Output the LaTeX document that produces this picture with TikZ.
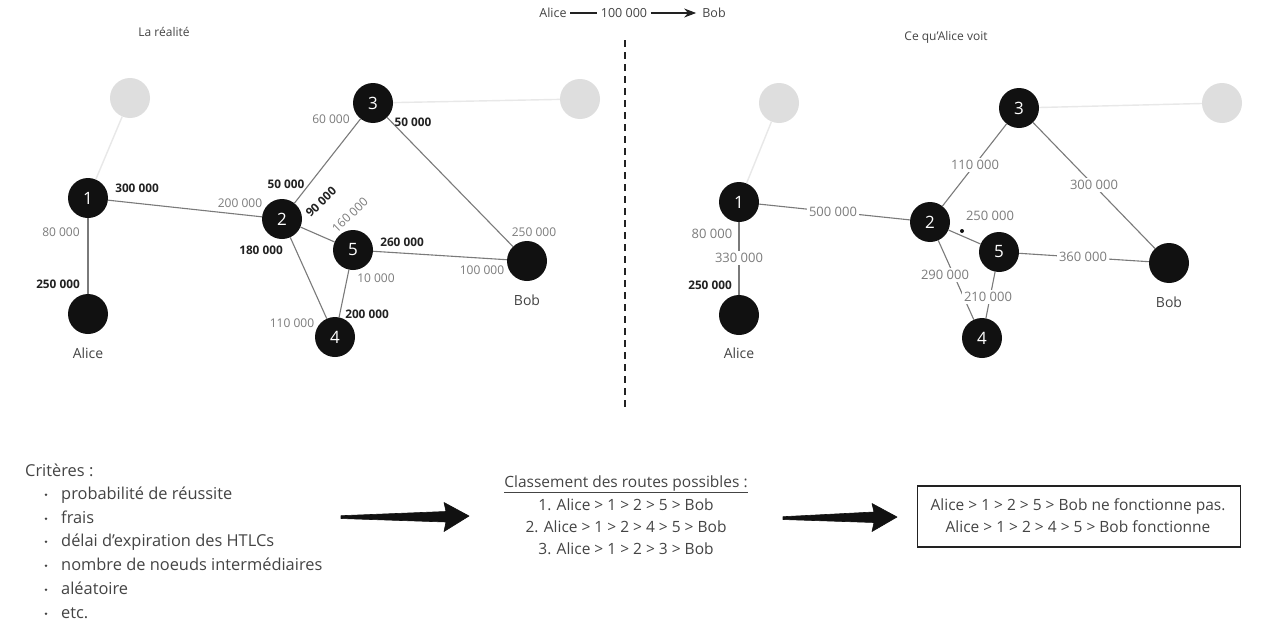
\documentclass[tikz,border=0pt]{standalone}
\usepackage{fontspec}
\setmainfont{Open Sans}
\usetikzlibrary{arrows.meta,shapes.geometric,calc}
\definecolor{edgec}{HTML}{7A7A7A}
\definecolor{lightc}{HTML}{E8E8E8}
\definecolor{ghost}{HTML}{DEDEDE}
\definecolor{nodec}{HTML}{111111}
\definecolor{txtc}{HTML}{444444}
\definecolor{grayl}{HTML}{7C7C7C}
\definecolor{boldl}{HTML}{222222}
\begin{document}
\begin{tikzpicture}[x=1pt,y=-1pt,
  pnode/.style={circle, fill=nodec, minimum size=40pt, inner sep=0pt, text=white, font=\fontsize{17}{17}\selectfont},
  gnode/.style={pnode, fill=ghost},
  edge/.style={draw=edgec, line width=1.1pt},
  ledge/.style={draw=lightc, line width=1.4pt},
  glab/.style={text=grayl, font=\fontsize{12}{12}\selectfont, inner sep=1pt},
  blab/.style={text=boldl, font=\bfseries\fontsize{11.8}{11.8}\selectfont, inner sep=1pt},
  wlab/.style={text=grayl, font=\fontsize{13}{13}\selectfont, fill=white, inner sep=2pt},
  plabel/.style={text=txtc, font=\fontsize{14}{14}\selectfont},
  leglab/.style={text=txtc, font=\fontsize{12.5}{12.5}\selectfont, inner sep=3.5pt},
  ttl/.style={text=txtc, font=\fontsize{12}{12}\selectfont},
  listtxt/.style={text=txtc, font=\fontsize{16.4}{16.4}\selectfont, anchor=west, inner sep=0pt, text height=12pt, text depth=3.6pt},
  ctxt/.style={text=txtc, font=\fontsize{15.5}{15.5}\selectfont, inner sep=0pt, text height=11.4pt, text depth=3.4pt},
  bigarrow/.style={fill=nodec, draw=nodec, line width=0.6pt, line join=round}
]
\useasboundingbox[fill=white] (0,0) rectangle (1272,637);

% ---------- legend ----------
\node[leglab] (legA) at (553,13) {Alice};
\node[leglab] (legV) at (624,13) {100 000};
\node[leglab, inner sep=6pt] (legB) at (714,13) {Bob};
\draw[line width=1.1pt, draw=boldl] (legA) -- (legV);
\draw[line width=1.1pt, draw=boldl, -{Stealth[length=12pt,width=9pt]}] (legV) -- (legB);

% ---------- dashed separator ----------
\coordinate (sepT) at (625,40);
\coordinate (sepB) at (625,410);
\draw[draw=boldl, line width=1.6pt, dash pattern=on 7pt off 5pt] (sepT) -- (sepB);

% ---------- titles ----------
\node[ttl] (t1) at (164,32) {La réalité};
\node[ttl] (t2) at (946,37) {Ce qu'Alice voit};

% ---------- left graph ----------
\node[gnode] (Lg1) at (130,98) {};
\node[gnode] (Lg2) at (580,99) {};
\node[pnode] (L1) at (88,198) {1};
\node[pnode] (LA) at (88,314) {};
\node[pnode] (L2) at (282,219) {2};
\node[pnode] (L3) at (373,103) {3};
\node[pnode] (L5) at (353,250) {5};
\node[pnode] (L4) at (335,337) {4};
\node[pnode] (LB) at (527,261) {};
\node[plabel] (LAt) at (88,353) {Alice};
\node[plabel] (LBt) at (527,300) {Bob};

\draw[ledge] (Lg1) -- (L1);
\draw[ledge] (L3) -- (Lg2);
\draw[edge] (L1) -- (LA);
\draw[edge] (L1) -- (L2);
\draw[edge] (L2) -- (L3);
\draw[edge] (L3) -- (LB);
\draw[edge] (L2) -- (L5);
\draw[edge] (L2) -- (L4);
\draw[edge] (L5) -- (L4);
\draw[edge] (L5) -- (LB);

\node[blab] (la1) at (137,188) {300 000};
\node[glab] (la2) at (61,232) {80 000};
\node[blab] (la3) at (58,284) {250 000};
\node[glab] (la4) at (240,203) {200 000};
\node[blab] (la5) at (286,184) {50 000};
\node[glab] (la6) at (331,119) {60 000};
\node[blab] (la7) at (413,122) {50 000};
\node[blab, rotate=44, inner sep=0pt] (la8) at (321,202) {90 000};
\node[glab, rotate=44, inner sep=0pt] (la9) at (350,215) {160 000};
\node[blab] (la10) at (402,242) {260 000};
\node[blab] (la11) at (261,250) {180 000};
\node[glab] (la12) at (376,278) {10 000};
\node[glab] (la13) at (534,232) {250 000};
\node[glab] (la14) at (482,270) {100 000};
\node[glab] (la15) at (292,323) {110 000};
\node[blab] (la16) at (367,314) {200 000};

% ---------- right graph ----------
\node[gnode] (Rg1) at (779,103) {};
\node[gnode] (Rg2) at (1222,103) {};
\node[pnode] (R1) at (739,202) {1};
\node[pnode] (RA) at (739,315) {};
\node[pnode] (R2) at (930,222) {2};
\node[pnode] (R3) at (1019,108) {3};
\node[pnode] (R5) at (999,252) {5};
\node[pnode] (R4) at (982,338) {4};
\node[pnode] (RB) at (1169,263) {};
\node[plabel] (RAt) at (739,353) {Alice};
\node[plabel] (RBt) at (1169,302) {Bob};

\draw[ledge] (Rg1) -- (R1);
\draw[ledge] (R3) -- (Rg2);
\draw[edge] (R1) -- (RA);
\draw[edge] (R1) -- (R2);
\draw[edge] (R2) -- (R3);
\draw[edge] (R3) -- (RB);
\draw[edge] (R2) -- (R5);
\draw[edge] (R2) -- (R4);
\draw[edge] (R5) -- (R4);
\draw[edge] (R5) -- (RB);
\coordinate (Rdot) at (962,231);
\fill[nodec] (Rdot) circle (2pt);

\node[glab, font=\fontsize{13}{13}\selectfont] (ra1) at (712,234) {80 000};
\node[wlab] (ra2) at (739,258) {330 000};
\node[blab] (ra3) at (710,285) {250 000};
\node[wlab] (ra4) at (833,212) {500 000};
\node[wlab] (ra5) at (975,165) {110 000};
\node[wlab] (ra6) at (1094,185) {300 000};
\node[wlab] (ra7) at (990,216) {250 000};
\node[wlab] (ra8) at (1083,257) {360 000};
\node[wlab] (ra9) at (945,275) {290 000};
\node[wlab] (ra10) at (988,297) {210 000};

% ---------- criteria ----------
\node[listtxt] (crit) at (25,472) {Critères :};
\foreach \yy/\tt [count=\i] in {495/probabilité de réussite, 519/frais, 542/délai d'expiration des HTLCs, 566/nombre de noeuds intermédiaires, 590/aléatoire, 614/etc.}{
  \node[listtxt] (crit\i) at (61,\yy) {\tt};
  \fill[txtc] (46,\yy-0.3) circle (1.4pt);
}

% ---------- arrows ----------
\coordinate (a1t) at (341,517);
\coordinate (a1h) at (469,516);
\filldraw[bigarrow] ($(a1t)+(0,-1.3)$) -- (446,511.5) -- (444,502.5) -- (a1h) -- (444,531.5) -- (446,522) -- ($(a1t)+(0,1.5)$) -- cycle;
\coordinate (a2t) at (783,518);
\coordinate (a2h) at (897,517);
\filldraw[bigarrow] ($(a2t)+(0,-1.3)$) -- (874,512) -- (872,503.5) -- (a2h) -- (872,531.5) -- (874,522.5) -- ($(a2t)+(0,1.5)$) -- cycle;

% ---------- ranking ----------
\node[ctxt] (cl0) at (626,483) {\underline{Classement des routes possibles :}};
\node[ctxt] (cl1) at (626,506) {1. Alice > 1 > 2 > 5 > Bob};
\node[ctxt] (cl2) at (626,528) {2. Alice > 1 > 2 > 4 > 5 > Bob};
\node[ctxt] (cl3) at (626,550) {3. Alice > 1 > 2 > 3 > Bob};

% ---------- result box ----------
\node[draw=boldl, line width=1.6pt, minimum width=323pt, minimum height=61pt] (box) at (1079,516.5) {};
\node[ctxt] (bx1) at (1078,506) {Alice > 1 > 2 > 5 > Bob ne fonctionne pas.};
\node[ctxt] (bx2) at (1078,528) {Alice > 1 > 2 > 4 > 5 > Bob fonctionne};
\end{tikzpicture}
\end{document}
